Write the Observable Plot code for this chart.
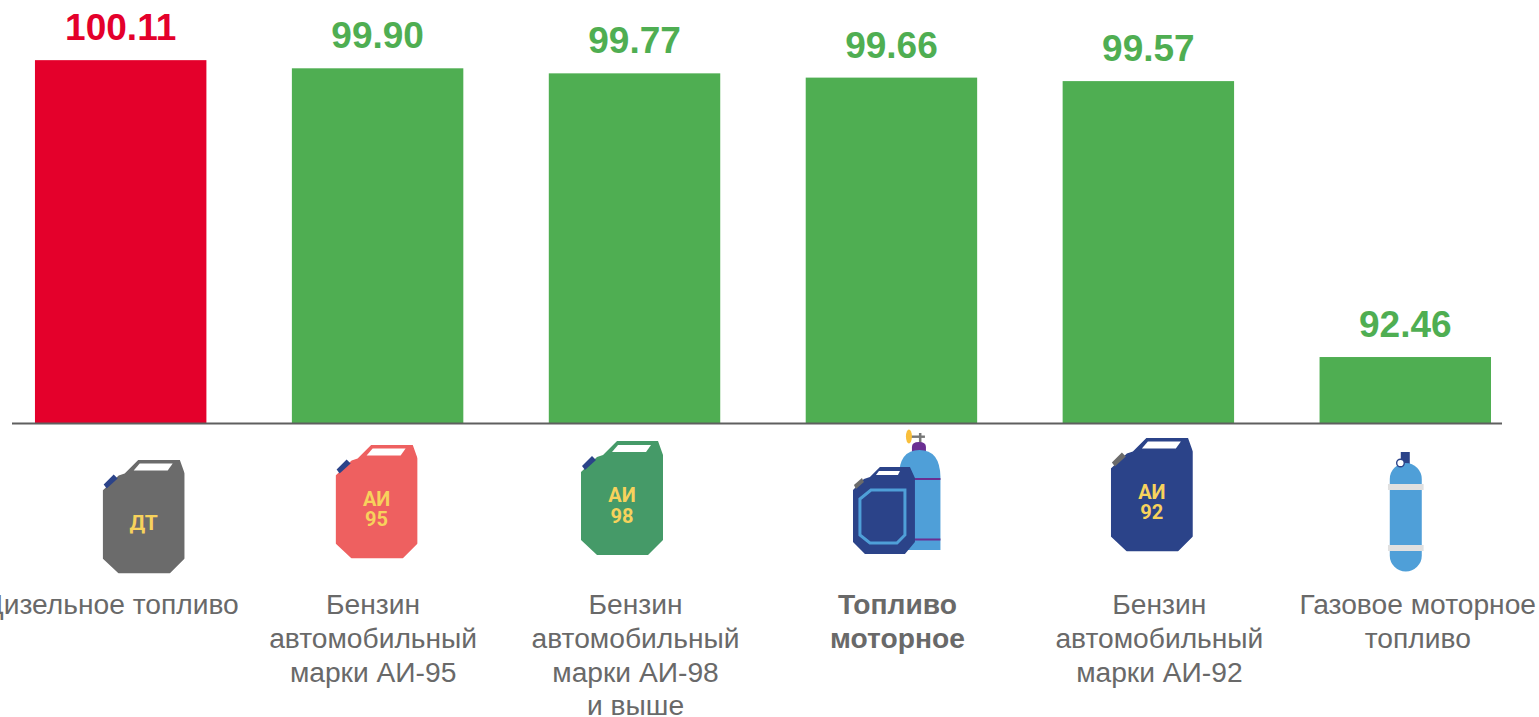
<!DOCTYPE html>
<html><head><meta charset="utf-8">
<style>html,body{margin:0;padding:0;background:#fff;overflow:hidden}svg{display:block}</style>
<script src="https://cdn.jsdelivr.net/npm/d3@7"></script>
<script src="https://cdn.jsdelivr.net/npm/@observablehq/plot@0.6"></script>
</head><body><div id="chart"></div>
<script>
const keys = ["dt", "ai95", "ai98", "motor", "ai92", "gas"];
const values = [100.11, 99.90, 99.77, 99.66, 99.57, 92.46];
const valueLabels = ["100.11", "99.90", "99.77", "99.66", "99.57", "92.46"];
const labels = ["Дизельное топливо", "Бензин\nавтомобильный\nмарки АИ-95", "Бензин\nавтомобильный\nмарки АИ-98\nи выше", "Топливо\nмоторное", "Бензин\nавтомобильный\nмарки АИ-92", "Газовое моторное\nтопливо"];
const boldKey = "motor";
const highlightKey = "dt";

const RED = "#e4002b", GREEN = "#4fae52", AXIS = "#5f5f5f", TEXT = "#696969";
const labelDx = [-9.5, -5, 0.5, 5.5, 10.5, 12];
const iconDx = [22.5, -1.5, -13, 5, 3, 0];
const iconCy = [93, 78, 74.5, 68.5, 71, 88.5];
const YEL = "#f7d25c", NAVY = "#2b4389", SKY = "#4f9fd8";

function uri(w, h, body) {
  return "data:image/svg+xml;utf8," + encodeURIComponent(`<svg xmlns="http://www.w3.org/2000/svg" width="${w}" height="${h}" viewBox="0 0 ${w} ${h}">${body}</svg>`);
}
function jar(fill, cap, lines) {
  const t = lines.length === 1
    ? `<text x="41" y="70.500" font-size="21">${lines[0]}</text>`
    : `<text x="41" y="61" font-size="20">${lines[0]}</text><text x="41" y="81.500" font-size="20">${lines[1]}</text>`;
  return uri(82, 114, `<polygon fill="${fill}" points="0,31 16,16 22,14 36,0 77,0 82,14 82,99 67,114 16,114 0,99"/>
  <polygon fill="#fff" points="37,4 70,4 65,11 31,11"/>
  <polygon fill="${cap}" points="1,25 11,15 15,19 4,29"/>
  <g fill="${YEL}" font-family="Roboto,sans-serif" font-weight="700" text-anchor="middle">${t}</g>`);
}
const motorIcon = uri(88, 126, `
  <rect x="66" y="4" width="2.5" height="10" fill="#777"/><rect x="54" y="6.5" width="18" height="2.4" fill="#777"/>
  <ellipse cx="56" cy="7.5" rx="3" ry="7" fill="#f9bf3b"/>
  <path d="M59 23V18Q59 13 66 13T73 18V23Z" fill="#6a2f92"/>
  <path d="M46 121V48Q46 21 66.5 21T87.5 48V121Z" fill="${SKY}"/>
  <rect x="46" y="49" width="41.5" height="2" fill="#6a2f92"/><rect x="46" y="109.500" width="41.5" height="2" fill="#6a2f92"/>
  <polygon fill="${NAVY}" points="0,61 11,50 17,48 27,38 57,38 62,49 62,113 52,125 12,125 0,113"/>
  <polygon fill="#fff" points="26,42 47,42 45,46 23,46"/>
  <polygon fill="#6b6b6b" points="1,56 9,49 11,53 3,60"/>
  <polygon fill="none" stroke="${SKY}" stroke-width="3" points="7,70 18,61 52,61 52,106 44,114 17,114 7,106"/>`);
const gasIcon = uri(36, 120, `
  <rect x="13" y="0" width="9" height="12" fill="${NAVY}"/>
  <rect x="2" y="11" width="32" height="108.500" rx="16" fill="${SKY}"/>
  <rect x="0" y="32" width="36" height="6" fill="#e0e0e0"/><rect x="0" y="93" width="36" height="6" fill="#e0e0e0"/>
  <circle cx="12.700" cy="11" r="3.800" fill="#fff" stroke="${NAVY}" stroke-width="1.400"/>`);
const icons = [jar("#6b6b6b", NAVY, ["ДТ"]), jar("#ee6060", NAVY, ["АИ", "95"]), jar("#459a68", NAVY, ["АИ", "98"]), motorIcon, jar(NAVY, "#6b6b6b", ["АИ", "92"]), gasIcon];
const iconSize = [[82,114],[82,114],[82,114],[88,126],[82,114],[36,120]];

const baseValue = 90.76;
const rows = keys.map((k, i) => ({k, v: values[i]}));

const chart = Plot.plot({
  width: 1539, height: 717,
  marginLeft: 12, marginRight: 37, marginTop: 0, marginBottom: 294,
  x: {domain: keys, axis: null, round: false, paddingInner: 0.3327, paddingOuter: 0.0661, align: 0.676},
  y: {domain: [baseValue, 101.66], axis: null},
  style: {background: "#fff", overflow: "visible"},
  marks: [
    Plot.barY(rows, {x: "k", y1: baseValue, y2: "v", fill: d => d.k === highlightKey ? RED : GREEN}),
    Plot.ruleY([baseValue], {stroke: AXIS, strokeWidth: 2}),
    Plot.text(rows, {x: "k", y: "v", text: (d, i) => valueLabels[i], fontSize: 37, fontWeight: 700, fontFamily: "Liberation Sans", lineAnchor: "bottom", dx: -0.5, dy: -20.5, fill: d => d.k === highlightKey ? RED : GREEN}),
    ...keys.map((k, i) => Plot.text([k], {x: d => d, y: () => baseValue, text: () => labels[i], dx: labelDx[i], dy: 167, lineAnchor: "top", lineHeight: 1.194, fontSize: 28.2, fontFamily: "Liberation Sans", fontWeight: k === boldKey ? 700 : 400, fill: TEXT})),
    ...keys.map((k, i) => Plot.image([k], {x: d => d, y: () => baseValue, src: () => icons[i], width: iconSize[i][0], height: iconSize[i][1], dx: iconDx[i], dy: iconCy[i]}))
  ]
});
document.getElementById("chart").append(chart);
</script></body></html>
